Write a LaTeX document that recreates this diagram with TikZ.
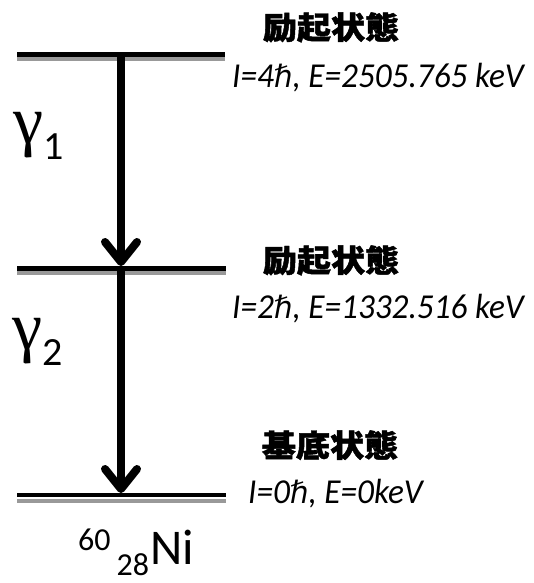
\documentclass[tikz,border=0pt]{standalone}
\usepackage{fontspec}
\setmainfont{Carlito}
\newfontfamily\cjk{Noto Sans CJK JP}[BoldFeatures={FakeBold=1.5}]
\newfontfamily\gam{Liberation Serif}
\newfontfamily\hbfont{DejaVu Sans}
\newcommand{\hbr}{{\hbfont\itshape\scalebox{0.88}{ℏ}}}
\usetikzlibrary{arrows.meta}
\tikzset{
  level/.style={line width=4.6pt, black},
  shade/.style={line width=4pt, black!40},
  trans/.style={line width=8pt, -{Straight Barb[length=20pt,width=32pt,line cap=round,line join=round]}},
  cjklab/.style={anchor=base, inner sep=0pt, font=\cjk\bfseries\fontsize{31}{36}\selectfont},
  statelab/.style={anchor=base west, inner sep=0pt, font=\itshape\fontsize{35}{40}\selectfont},
  glab/.style={anchor=base west, inner sep=0pt},
}
\begin{document}
\begin{tikzpicture}[x=1pt,y=-1pt]
\useasboundingbox (0,0) rectangle (534,583);
% level coordinates
\coordinate (A1) at (17,54.3);  \coordinate (B1) at (225,54.3);
\coordinate (A2) at (17,268.3); \coordinate (B2) at (226,268.3);
\coordinate (A3) at (17,495);   \coordinate (B3) at (226,495);
\coordinate (S1) at (17,59);  \coordinate (T1) at (225,59);
\coordinate (S2) at (17,273); \coordinate (T2) at (226,273);
\coordinate (S3) at (17,500.5); \coordinate (T3) at (226,500.5);
\coordinate (P1) at (121,56);
\coordinate (P2) at (121,266);
\coordinate (P3) at (121,270);
\coordinate (P4) at (121,493);
% gray shadows
\draw[shade] (S1) -- (T1);
\draw[shade] (S2) -- (T2);
\draw[shade] (S3) -- (T3);
% levels
\draw[level] (A1) -- (B1);
\draw[level] (A2) -- (B2);
\draw[level] (A3) -- (B3);
% transitions
\draw[trans] (P1) -- (P2);
\draw[trans] (P3) -- (P4);
% labels
\node[cjklab] (c1) at (331,39) {\scalebox{1.1}[1]{励起状態}};
\node[statelab] (s1) at (232,88) {\scalebox{0.95}[1]{I=4\hbr, E=2505.765 keV}};
\node[cjklab] (c2) at (331,272) {\scalebox{1.1}[1]{励起状態}};
\node[statelab] (s2) at (232,318) {\scalebox{0.95}[1]{I=2\hbr, E=1332.516 keV}};
\node[cjklab] (c3) at (330,457) {\scalebox{1.1}[1]{基底状態}};
\node[statelab] (s3) at (248,503) {\scalebox{0.95}[1]{I=0\hbr, E=0keV}};
\node[glab] (g1) at (13,143) {{\gam\fontsize{68}{72}\selectfont γ}\raisebox{-16pt}{\fontsize{40}{42}\selectfont 1}};
\node[glab] (g2) at (12,349) {{\gam\fontsize{68}{72}\selectfont γ}\raisebox{-16pt}{\fontsize{40}{42}\selectfont 2}};
\node[glab] (ni) at (78,564) {\fontsize{32}{36}\selectfont\raisebox{14pt}{60}\hspace{6pt}\raisebox{-11pt}{28}\hspace{1pt}{\fontsize{50}{54}\selectfont Ni}};
\end{tikzpicture}
\end{document}
